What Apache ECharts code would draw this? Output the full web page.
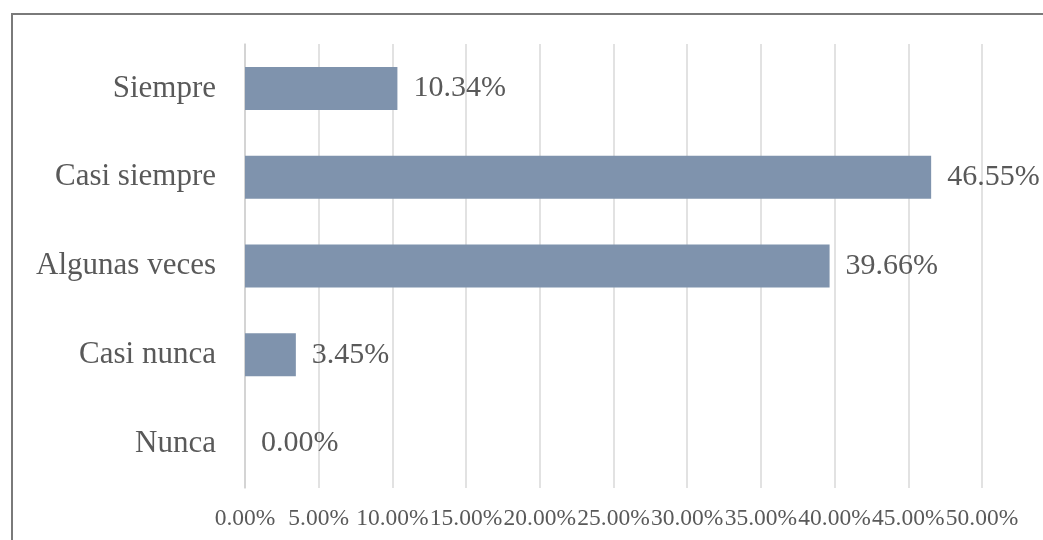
<!DOCTYPE html>
<html>
<head>
<meta charset="utf-8">
<style>
  html, body { margin: 0; padding: 0; background: #fff; }
  #chart { width: 1043px; height: 540px; }
</style>
<script src="https://cdn.jsdelivr.net/npm/echarts@6/dist/echarts.min.js"></script>
</head>
<body>
<div id="chart"></div>
<script>
// categories bottom -> top (value axis order)
var categories = ['Nunca', 'Casi nunca', 'Algunas veces', 'Casi siempre', 'Siempre'];
var percents = [0.00, 3.45, 39.66, 46.55, 10.34];
var xTicks = [0, 5, 10, 15, 20, 25, 30, 35, 40, 45, 50];

var myChart = echarts.init(document.getElementById('chart'));
var serif = '"Liberation Serif", "DejaVu Serif", serif';

var option = {
    backgroundColor: '#fff',
    animation: false,
    graphic: [
        {
            type: 'rect',
            shape: { x: 12, y: 14, width: 1100, height: 600 },
            style: { fill: 'none', stroke: '#7a7a7a', lineWidth: 2 },
            silent: true
        }
    ],
    grid: {
        left: 245,
        right: 61,
        top: 44,
        bottom: 52,
        containLabel: false
    },
    xAxis: {
        type: 'value',
        min: xTicks[0],
        max: xTicks[xTicks.length - 1],
        interval: 5,
        axisLine: { show: false },
        axisTick: { show: false },
        axisLabel: {
            margin: 19,
            color: '#595959',
            fontFamily: serif,
            fontSize: 23.5,
            hideOverlap: false,
            formatter: function (v) { return v.toFixed(2) + '%'; }
        },
        splitLine: {
            show: true,
            lineStyle: { color: '#d9d9d9', width: 1.5 }
        }
    },
    yAxis: {
        type: 'category',
        data: categories,
        axisLine: { show: true, lineStyle: { color: '#cfcfcf', width: 1.5 } },
        axisTick: { show: false },
        axisLabel: {
            interval: 0,
            margin: 29,
            color: '#595959',
            fontFamily: serif,
            fontSize: 31
        },
        splitLine: { show: false }
    },
    series: [
        {
            name: 'Porcentaje',
            type: 'bar',
            barWidth: 43,
            data: percents,
            itemStyle: { color: '#7f93ad' },
            label: {
                show: true,
                position: 'right',
                distance: 16,
                color: '#595959',
                fontFamily: serif,
                fontSize: 30,
                formatter: function (p) { return p.value.toFixed(2) + '%'; }
            }
        }
    ]
};
myChart.setOption(option);
</script>
</body>
</html>
